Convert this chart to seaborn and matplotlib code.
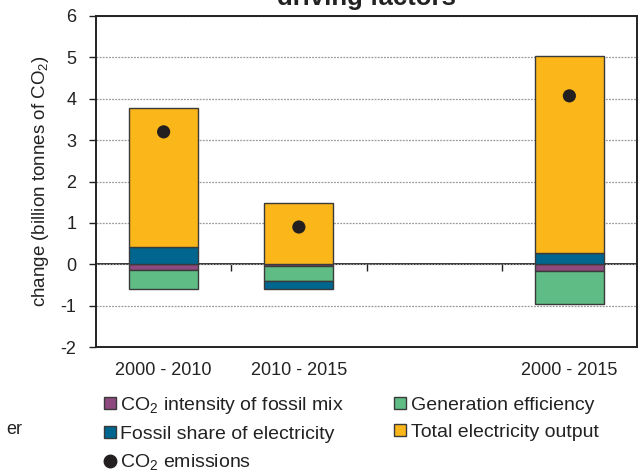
import numpy as np
import matplotlib.pyplot as plt
import seaborn as sns
from matplotlib.lines import Line2D

# values (billion tonnes CO2)
periods = ['2000 - 2010', '2010 - 2015', '2000 - 2015']
slots = [0, 1, 3]  # slot 2 is left empty in the original
intensity = [-0.13, -0.05, -0.17]
efficiency = [-0.46, -0.35, -0.78]
fossil_share = [0.41, -0.21, 0.26]
total_output = [3.36, 1.47, 4.77]
emissions = [3.2, 0.9, 4.07]

series_names = ['CO$_2$ intensity of fossil mix', 'Generation efficiency',
                'Fossil share of electricity', 'Total electricity output']
series_colors = ['#8E4A7E', '#5FBC84', '#00668F', '#FBB61A']
dot_color = '#231F20'
edge = '#3A3A3A'

sns.set_style('white')
plt.rcParams['font.family'] = ['Liberation Sans', 'DejaVu Sans']
plt.rcParams['mathtext.fontset'] = 'custom'
plt.rcParams['mathtext.rm'] = 'Liberation Sans'
plt.rcParams['axes.unicode_minus'] = False

fig = plt.figure(figsize=(6.4, 4.71), dpi=100)
ax = fig.add_axes([96 / 640, 1 - 347 / 471, 541 / 640, 331 / 471])

pos = np.zeros(3)
neg = np.zeros(3)
for vals, color in zip([intensity, efficiency, fossil_share, total_output], series_colors):
    v = np.array(vals)
    bottom = np.where(v >= 0, pos, neg)
    sns.barplot(x=slots, y=v, bottom=bottom, native_scale=True, width=0.51,
                color=color, saturation=1, edgecolor=edge, linewidth=1,
                errorbar=None, ax=ax, zorder=3)
    pos += np.clip(v, 0, None)
    neg += np.clip(v, None, 0)

sns.scatterplot(x=slots, y=emissions, s=90, color=dot_color, edgecolor='none',
                zorder=5, legend=False, ax=ax)

ax.set_xlim(-0.5, 3.5)
ax.set_ylim(-2, 6)
ax.set_yticks(range(-2, 7))
ax.set_xticks(slots)
ax.set_xticklabels(periods)
ax.tick_params(axis='x', length=0, pad=11, labelsize=13, colors='#222')
ax.tick_params(axis='y', length=5, width=1, direction='out', labelsize=13,
               colors='#222', left=True, pad=9)
ax.set_xlabel('')
ax.set_ylabel('change (billion tonnes of CO$_2$)', fontsize=13.5, color='#222',
              labelpad=7)
ax.yaxis.grid(True, linestyle=(0, (1.5, 1)), color='#9A9A9A', linewidth=0.9)
ax.set_axisbelow(True)
for sp in ax.spines.values():
    sp.set_color('#222')
    sp.set_linewidth(1.4)

# zero line with category dividers, as in the original
zero = ax.secondary_xaxis(2 / 8)
zero.set_xticks([0.5, 1.5, 2.5])
zero.set_xticklabels([])
zero.tick_params(length=5, width=1, direction='out', colors='#222')
zero.spines['bottom'].set_color('#222')
zero.spines['bottom'].set_linewidth(1.3)

fig.text(366 / 640, 1 - 5 / 471, 'driving factors', ha='center', va='baseline',
         fontsize=18.5, fontweight='bold', color='#222')
fig.text(22 / 640, 1 - 430 / 471, 'er', ha='right', va='center', fontsize=13,
         color='#222')

handles = [Line2D([], [], ls='none', marker='s', markersize=9,
                  markerfacecolor=c, markeredgecolor=edge, markeredgewidth=1)
           for c in series_colors]
handles.append(Line2D([], [], ls='none', marker='o', markersize=9,
                      markerfacecolor=dot_color, markeredgecolor=dot_color))
labels = series_names + ['CO$_2$ emissions']
order = [0, 2, 4, 1, 3]
fig.legend([handles[i] for i in order], [labels[i] for i in order],
           ncol=2, loc='upper left', bbox_to_anchor=(94 / 640, 1 - 385 / 471),
           frameon=False, fontsize=14, handlelength=0.6, handletextpad=0.25,
           columnspacing=2.6, labelspacing=0.5, borderpad=0,
           labelcolor='#222')

fig.savefig('out.png', dpi=100)
